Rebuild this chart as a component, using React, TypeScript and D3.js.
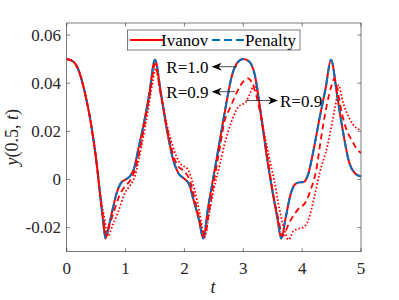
import React from "react";
import * as d3 from "d3";

// R = 1.0 (Ivanov and Penalty nearly coincide)
const ivanovT = [0, 0.1, 0.2, 0.3, 0.4, 0.5, 0.58, 0.62, 0.66, 0.72, 0.78, 0.85, 0.92, 1.0, 1.08, 1.15, 1.22, 1.3, 1.4, 1.5, 1.6, 1.7, 1.8, 1.9, 2.0, 2.08, 2.15, 2.25, 2.32, 2.4, 2.5, 2.6, 2.7, 2.8, 2.9, 3.0, 3.1, 3.2, 3.3, 3.4, 3.5, 3.58, 3.645, 3.72, 3.8, 3.88, 3.95, 4.03, 4.1, 4.2, 4.3, 4.4, 4.49, 4.6, 4.7, 4.8, 4.9, 5.0];
const ivanovY = [0.05, 0.0492, 0.0455, 0.037, 0.025, 0.0085, -0.009, -0.0175, -0.0245, -0.019, -0.0125, -0.0055, -0.0015, 0.0, 0.0015, 0.005, 0.013, 0.022, 0.035, 0.0497, 0.036, 0.021, 0.009, 0.0025, 0.0003, -0.002, -0.008, -0.017, -0.0245, -0.012, 0.002, 0.016, 0.03, 0.0425, 0.0485, 0.05, 0.049, 0.043, 0.027, 0.0095, -0.0055, -0.016, -0.0245, -0.016, -0.0065, -0.002, -0.0012, -0.001, 0.002, 0.013, 0.026, 0.038, 0.0497, 0.034, 0.019, 0.007, 0.0025, 0.0012];
const penaltyT = ivanovT;
const penaltyY = [0.05, 0.0492, 0.0455, 0.037, 0.025, 0.0085, -0.009, -0.0175, -0.0245, -0.019, -0.0125, -0.0055, -0.0015, 0.0, 0.0015, 0.005, 0.013, 0.022, 0.035, 0.0497, 0.036, 0.021, 0.009, 0.0025, 0.0003, -0.002, -0.008, -0.017, -0.0245, -0.012, 0.002, 0.016, 0.03, 0.0425, 0.0485, 0.05, 0.049, 0.043, 0.027, 0.0095, -0.0055, -0.016, -0.0245, -0.016, -0.0065, -0.002, -0.0012, -0.001, 0.002, 0.013, 0.026, 0.038, 0.0497, 0.034, 0.019, 0.007, 0.0025, 0.0012];

// R = 0.9 (red dashed)
const dashedT = [0, 0.1, 0.2, 0.3, 0.4, 0.5, 0.58, 0.62, 0.67, 0.72, 0.8, 0.9, 0.99, 1.07, 1.16, 1.25, 1.35, 1.43, 1.5, 1.6, 1.7, 1.8, 1.89, 2.0, 2.1, 2.2, 2.28, 2.35, 2.42, 2.5, 2.6, 2.68, 2.78, 2.85, 2.95, 3.08, 3.15, 3.22, 3.3, 3.4, 3.5, 3.6, 3.67, 3.78, 3.93, 4.07, 4.15, 4.24, 4.32, 4.42, 4.5, 4.55, 4.6, 4.68, 4.75, 4.85, 4.92, 5.0];
const dashedY = [0.05, 0.0492, 0.0455, 0.037, 0.025, 0.0085, -0.009, -0.016, -0.023, -0.0195, -0.0135, -0.0065, -0.0028, -0.0007, 0.004, 0.013, 0.027, 0.038, 0.048, 0.035, 0.022, 0.011, 0.0055, 0.0034, -0.001, -0.011, -0.019, -0.023, -0.013, -0.001, 0.013, 0.024, 0.03, 0.034, 0.039, 0.042, 0.04, 0.035, 0.026, 0.011, -0.005, -0.017, -0.0235, -0.018, -0.0124, -0.009, -0.004, 0.004, 0.017, 0.031, 0.039, 0.042, 0.037, 0.027, 0.021, 0.016, 0.013, 0.011];

// second R = 0.9 label (red dotted)
const dottedT = [0, 0.1, 0.2, 0.3, 0.4, 0.5, 0.58, 0.64, 0.7, 0.78, 0.875, 0.99, 1.07, 1.16, 1.27, 1.37, 1.45, 1.51, 1.6, 1.7, 1.8, 1.92, 2.06, 2.17, 2.26, 2.34, 2.42, 2.5, 2.6, 2.68, 2.8, 2.91, 3.05, 3.12, 3.19, 3.25, 3.35, 3.45, 3.53, 3.62, 3.7, 3.77, 3.85, 3.93, 4.01, 4.1, 4.2, 4.3, 4.43, 4.52, 4.58, 4.62, 4.69, 4.8, 4.92, 5.0];
const dottedY = [0.05, 0.0492, 0.0455, 0.037, 0.025, 0.0085, -0.008, -0.016, -0.0235, -0.019, -0.0135, -0.0055, -0.0028, 0.0014, 0.0138, 0.027, 0.039, 0.046, 0.035, 0.023, 0.014, 0.0069, 0.0041, -0.004, -0.014, -0.024, -0.014, -0.004, 0.006, 0.0145, 0.024, 0.03, 0.0324, 0.036, 0.0393, 0.034, 0.02, 0.008, -0.001, -0.013, -0.021, -0.025, -0.0215, -0.0205, -0.02, -0.0173, -0.008, 0.003, 0.014, 0.025, 0.033, 0.0392, 0.0324, 0.0255, 0.0214, 0.0205];

const xTicks = [0, 1, 2, 3, 4, 5];
const yTicks = [-0.02, 0, 0.02, 0.04, 0.06];
const yTickLabels = ["-0.02", "0", "0.02", "0.04", "0.06"];

const W = 399;
const H = 300;
const left = 66.7;
const right = 361;
const top = 23;
const bottom = 251.7;
const axisColor = "#262626";
const font = "'Liberation Serif', 'Times New Roman', serif";

const x = d3.scaleLinear().domain([0, 5]).range([left, right]);
const y = d3.scaleLinear().domain([-0.03, 0.065]).range([bottom, top]);

const line = d3
  .line<[number, number]>()
  .x((d) => x(d[0]))
  .y((d) => y(d[1]))
  .curve(d3.curveMonotoneX);

const zip = (ts: number[], ys: number[]): [number, number][] =>
  ts.map((t, i) => [t, ys[i]]);

function Arrow({ x1, x2, yy }: { x1: number; x2: number; yy: number }) {
  // tail at x1, tip at x2
  const dir = x2 > x1 ? 1 : -1;
  const len = 10;
  const hw = 4;
  const back = x2 - dir * len;
  const notch = x2 - dir * (len - 3);
  return (
    <g>
      <line x1={x1} y1={yy} x2={notch} y2={yy} stroke={axisColor} strokeWidth={0.8} />
      <path
        d={`M${x2},${yy} L${back},${yy - hw} L${notch},${yy} L${back},${yy + hw} Z`}
        fill="#000"
      />
    </g>
  );
}

export default function App() {
  return (
    <svg
      width={W}
      height={H}
      style={{ position: "absolute", left: 0, top: 0, background: "#fff" }}
      fontFamily={font}
    >
      <rect x={0} y={0} width={W} height={H} fill="#fff" />
      <defs>
        <clipPath id="plot">
          <rect x={left} y={top} width={right - left} height={bottom - top} />
        </clipPath>
      </defs>

      <g clipPath="url(#plot)" fill="none">
        <path d={line(zip(ivanovT, ivanovY)) ?? ""} stroke="#ff0000" strokeWidth={2} />
        <path
          d={line(zip(penaltyT, penaltyY)) ?? ""}
          stroke="#0072bd"
          strokeWidth={2}
          strokeDasharray="8,4"
        />
        <path
          d={line(zip(dashedT, dashedY)) ?? ""}
          stroke="#ff0000"
          strokeWidth={1.8}
          strokeDasharray="6,4"
        />
        <path
          d={line(zip(dottedT, dottedY)) ?? ""}
          stroke="#ff0000"
          strokeWidth={1.8}
          strokeDasharray="1.6,2"
        />
      </g>

      {/* axes box */}
      <rect
        x={left}
        y={top}
        width={right - left}
        height={bottom - top}
        fill="none"
        stroke={axisColor}
        strokeWidth={0.6}
      />
      {xTicks.map((t) => (
        <g key={"x" + t}>
          <line x1={x(t)} x2={x(t)} y1={bottom} y2={bottom - 3.5} stroke={axisColor} strokeWidth={0.6} />
          <line x1={x(t)} x2={x(t)} y1={top} y2={top + 3.5} stroke={axisColor} strokeWidth={0.6} />
          <text x={x(t)} y={274} textAnchor="middle" fontSize={17} fill={axisColor}>
            {t}
          </text>
        </g>
      ))}
      {yTicks.map((v, i) => (
        <g key={"y" + v}>
          <line x1={left} x2={left + 3.5} y1={y(v)} y2={y(v)} stroke={axisColor} strokeWidth={0.6} />
          <line x1={right} x2={right - 3.5} y1={y(v)} y2={y(v)} stroke={axisColor} strokeWidth={0.6} />
          <text x={61} y={y(v) + 5.5} textAnchor="end" fontSize={17} fill={axisColor}>
            {yTickLabels[i]}
          </text>
        </g>
      ))}

      <text x={213} y={293} textAnchor="middle" fontSize={18} fontStyle="italic" fill={axisColor}>
        t
      </text>
      <text
        transform={`translate(18,${(top + bottom) / 2}) rotate(-90)`}
        textAnchor="middle"
        fontSize={18}
        fill={axisColor}
      >
        <tspan fontStyle="italic">y</tspan>
        <tspan>(0.5, </tspan>
        <tspan fontStyle="italic">t</tspan>
        <tspan>)</tspan>
      </text>

      {/* legend */}
      <rect x={127.3} y={30} width={172.7} height={20} fill="#fff" stroke={axisColor} strokeWidth={0.6} />
      <line x1={130} x2={163} y1={40} y2={40} stroke="#ff0000" strokeWidth={2} />
      <text x={161} y={45.8} fontSize={17} fill="#000">
        Ivanov
      </text>
      <line x1={212} x2={244} y1={40} y2={40} stroke="#0072bd" strokeWidth={2} strokeDasharray="8,4" />
      <text x={245} y={45.8} fontSize={17} fill="#000">
        Penalty
      </text>

      {/* annotations */}
      <Arrow x1={237} x2={211.7} yy={66.7} />
      <text x={208.5} y={72.5} textAnchor="end" fontSize={17} fill="#000">
        R=1.0
      </text>
      <Arrow x1={235} x2={211.7} yy={91.7} />
      <text x={208.5} y={97.5} textAnchor="end" fontSize={17} fill="#000">
        R=0.9
      </text>
      <Arrow x1={246} x2={278} yy={100.5} />
      <text x={280} y={106.5} fontSize={17} fill="#000">
        R=0.9
      </text>
    </svg>
  );
}
